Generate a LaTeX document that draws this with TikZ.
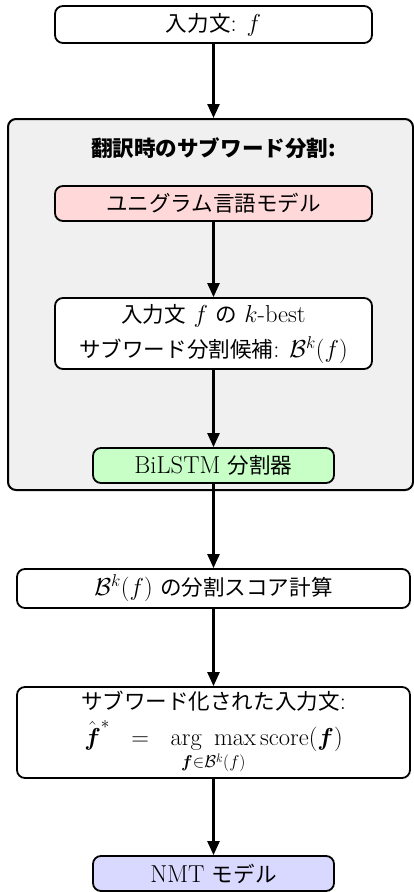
\RequirePackage{fix-cm}
\documentclass[tikz,border=0pt]{standalone}
\usepackage{amsmath}
\usepackage{fontspec}
\setmainfont{Latin Modern Roman}
\newfontfamily\jp[Scale=0.88]{Noto Sans CJK JP}
\usetikzlibrary{arrows.meta}
\begin{document}
\begin{tikzpicture}[x=1pt,y=-1pt,
  font=\fontsize{24.5}{29}\selectfont,
  box/.style={draw, line width=1.8pt, rounded corners=8pt, inner sep=0pt, align=center},
  arr/.style={line width=2.4pt, -{Triangle[length=14pt,width=12pt]}},
]
\useasboundingbox (0,0) rectangle (414,892);
\node[box, line width=2pt, fill=gray!12, minimum width=405pt, minimum height=371pt] (grp) at (210.5,304.5) {};
\node (title) at (213.5,148) {\jp\bfseries 翻訳時のサブワード分割:};
\node[box, minimum width=317pt, minimum height=37pt] (in) at (213.5,24.5) {{\jp 入力文}: $f$};
\node[box, fill=red!15, minimum width=317pt, minimum height=35pt] (lm) at (213.5,203.5) {\jp ユニグラム言語モデル};
\node[box, fill=white, minimum width=317pt, minimum height=71pt] (cand) at (213.5,333.5)
  {{\jp 入力文} $f$ {\jp の} $k$-best\\[6pt]{\jp サブワード分割候補}: $\mathcal{B}^k(f)$};
\node[box, fill=green!22, minimum width=241pt, minimum height=35pt] (bi) at (213.5,465.5) {BiLSTM {\jp 分割器}};
\node[box, minimum width=393pt, minimum height=39pt] (score) at (213.5,588.5) {$\mathcal{B}^k(f)$ {\jp の分割スコア計算}};
\node[box, minimum width=393pt, minimum height=91pt] (sel) at (213.5,732.5)
  {{\jp サブワード化された入力文}:\\[7pt]
   $\hat{\boldsymbol{f}}^{*}\hspace{0.6em}=\hspace{0.6em}\mathop{\mathrm{arg}\hspace{0.5em}\mathrm{max}}\limits_{\boldsymbol{f}\in\mathcal{B}^k(f)}\mathrm{score}(\boldsymbol{f})$};
\node[box, fill=blue!15, minimum width=241pt, minimum height=35pt] (nmt) at (213.5,873.5) {NMT {\jp モデル}};
\draw[arr] (in.south) -- (in.south |- grp.north);
\draw[arr] (lm) -- (cand);
\draw[arr] (cand) -- (bi);
\draw[arr] (bi) -- (score);
\draw[arr] (score) -- (sel);
\draw[arr] (sel) -- (nmt);
\end{tikzpicture}
\end{document}
